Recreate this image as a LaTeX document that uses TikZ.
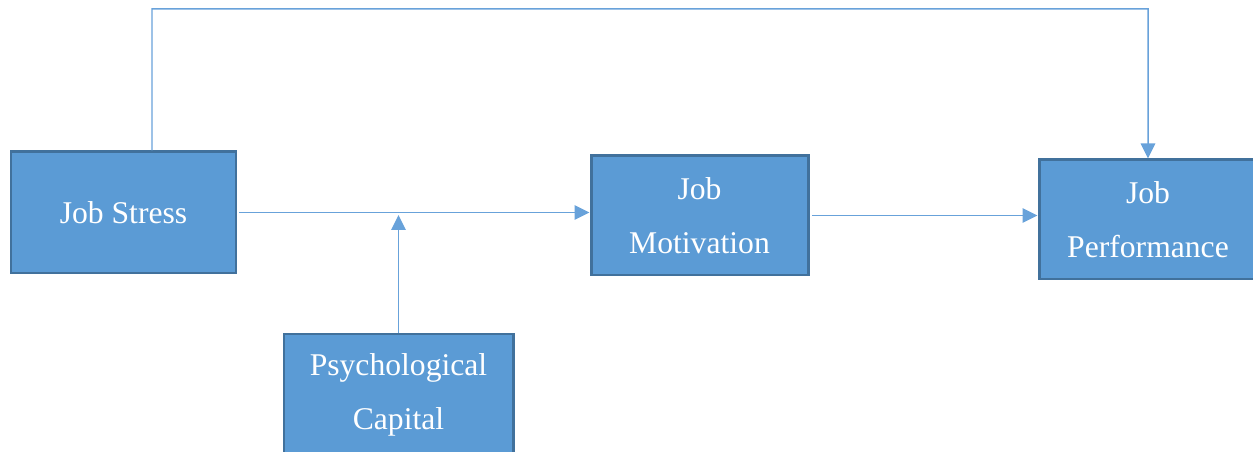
\documentclass[tikz,border=0pt]{standalone}
\usepackage{fontspec}
\setmainfont{Liberation Serif}
\usepackage{tikz}
\usetikzlibrary{arrows.meta,positioning}
\usepackage{xcolor}
\definecolor{boxblue}{RGB}{91,155,213}
\definecolor{edgeblue}{RGB}{65,113,156}
\definecolor{linkblue}{RGB}{104,162,218}

\begin{document}
\begin{tikzpicture}[
    factor/.style={rectangle,draw=edgeblue,line width=1.7pt,fill=boxblue,
      text=white,align=center,inner sep=0pt,
      font=\fontsize{18}{31}\selectfont},
    link/.style={linkblue,line width=0.85pt,
      -{Triangle[length=0.3cm,width=0.29cm]}}
  ]
    % page frame
    \useasboundingbox (0,0) rectangle (25.06,9.04);
    \clip (0,0) rectangle (25.06,9.04);
    % variables
    \node[factor,minimum width=4.5cm,minimum height=2.42cm] (js) at (2.47,4.79) {Job Stress};
    \node[factor,minimum width=4.34cm,minimum height=2.38cm] (jm) at (13.99,4.73) {Job\\Motivation};
    \node[factor,minimum width=4.36cm,minimum height=2.38cm] (jp) at (22.96,4.65) {Job\\Performance};
    \node[factor,minimum width=4.58cm,minimum height=2.44cm] (pc) at (7.97,1.14) {Psychological\\Capital};
    % helper points
    \coordinate (jsout) at ([xshift=0.57cm]js.north);
    \coordinate (topleft) at (3.04,8.86);
    \coordinate (mod) at (pc.north |- 0,4.74);
    % paths
    \draw[link,shorten <=1pt] (js.east) -- (js.east -| jm.west);
    \draw[link,shorten <=1.5pt] (jm.east) -- (jm.east -| jp.west);
    \draw[link] (pc.north) -- (mod);
    \draw[link] (jsout) -- (topleft) -| (jp.north);
\end{tikzpicture}
\end{document}
